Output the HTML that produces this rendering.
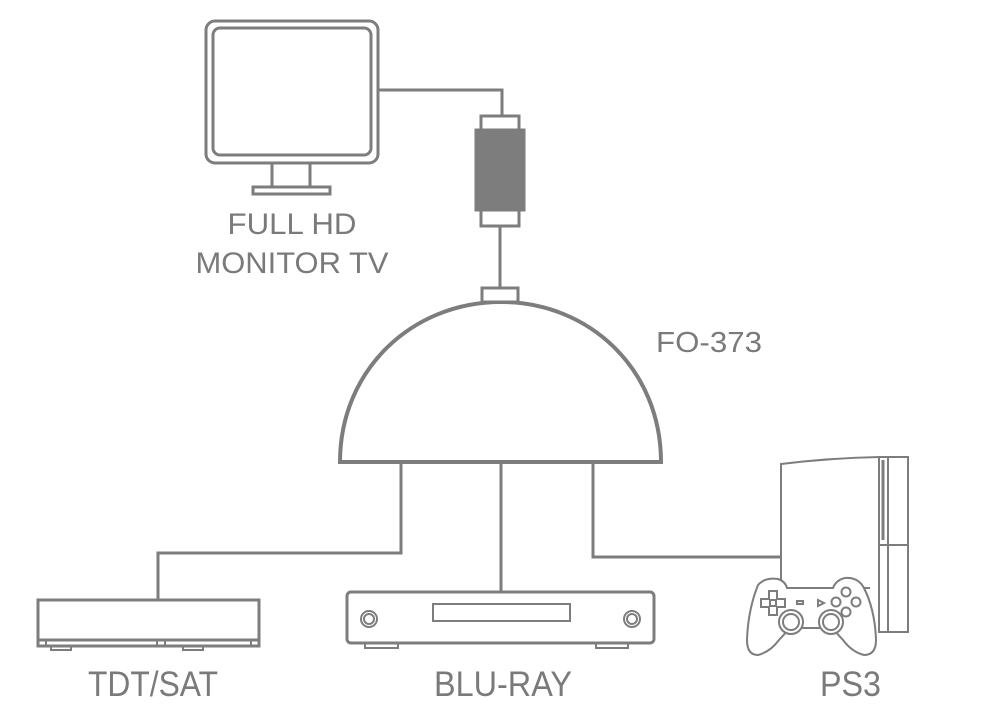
<!DOCTYPE html>
<html><head><style>
html,body{margin:0;padding:0;background:#fff;}
svg{display:block;}
text{font-family:"Liberation Sans",sans-serif;fill:#7a7a7a;}
</style></head><body>
<svg width="1000" height="727" viewBox="0 0 1000 727" xmlns="http://www.w3.org/2000/svg">
<g fill="none" stroke="#7d7d7d" stroke-width="3">
<!-- monitor -->
<rect x="206" y="21" width="172" height="142" rx="9"/>
<rect x="213" y="28" width="158" height="127" rx="7"/>
<path d="M272 163 V187 M310 163 V187"/>
<rect x="253" y="187" width="77" height="7"/>
<!-- cable -->
<path d="M378 90 H502 V116"/>
<rect x="481" y="116" width="38" height="14" fill="#fff"/>
<rect x="476" y="130" width="48" height="80" fill="#7d7d7d"/>
<rect x="481" y="210" width="38" height="16" fill="#fff"/>
<path d="M500 226 V288"/>
<!-- dome -->
<path d="M340 462 C340 370 412 302 501 302 C590 302 661 370 661 462 Z" stroke-width="4" fill="#fff"/>
<rect x="482" y="288" width="36" height="14" fill="#fff"/>
<!-- connection lines -->
<path d="M401 463 V553 H158 V600"/>
<path d="M501 463 V592"/>
<path d="M593 463 V557 H782"/>
<!-- TDT box -->
<rect x="38" y="600" width="221" height="40"/>
<rect x="38" y="640" width="221" height="6"/>
<path d="M46 640 V646 M157 640 V646 M165 640 V646 M251 640 V646" stroke-width="2"/>
<rect x="51" y="646" width="20" height="4" stroke-width="2"/>
<rect x="183" y="646" width="20" height="4" stroke-width="2"/>
<!-- Blu-ray -->
<rect x="347" y="592" width="307" height="51" rx="4"/>
<rect x="433" y="604" width="137" height="17" stroke-width="2"/>
<circle cx="369" cy="619" r="8" stroke-width="2"/><circle cx="369" cy="619" r="5" stroke-width="2"/>
<circle cx="632" cy="619" r="8" stroke-width="2"/><circle cx="632" cy="619" r="5" stroke-width="2"/>
<rect x="365" y="643" width="33" height="5" stroke-width="2"/>
<rect x="596" y="643" width="32" height="5" stroke-width="2"/>
<!-- PS3 -->
<g stroke-width="2">
<path d="M781 595 V464 Q830 458 879 457 V630"/>
<rect x="879" y="457" width="29" height="175"/>
<path d="M879 545 H908 M888 457 V632"/>
<path d="M883 460 V540" stroke-width="3"/>
<path d="M781 588 H870"/>
<path d="M758 585 Q765 577 778 579 Q785 581 787 588 H833 Q836 580 845 578 Q858 577 864 588 Q875 610 876 640 Q876 655 864 655 Q852 652 843 640 L832 628 H790 L779 640 Q770 652 758 655 Q747 655 747 640 Q748 610 758 585 Z" fill="#fff"/>
<path d="M761 599 h8 v-8 h8 v8 h8 v8 h-8 v8 h-8 v-8 h-8 Z"/>
<rect x="770" y="600" width="6" height="6"/>
<circle cx="846" cy="592" r="4.5"/><circle cx="846" cy="612" r="4.5"/><circle cx="836" cy="602" r="4.5"/><circle cx="856" cy="602" r="4.5"/>
<circle cx="791" cy="622" r="12" fill="#fff"/><circle cx="791" cy="622" r="8"/>
<circle cx="831" cy="622" r="12" fill="#fff"/><circle cx="831" cy="622" r="8"/>
<rect x="797" y="601" width="6" height="3"/>
<path d="M818 600 l6 3 -6 3 Z"/>
</g>
</g>
<text x="292" y="234" font-size="30" text-anchor="middle" textLength="129" lengthAdjust="spacingAndGlyphs">FULL HD</text>
<text x="292" y="273" font-size="30" text-anchor="middle" textLength="193" lengthAdjust="spacingAndGlyphs">MONITOR TV</text>
<text x="656" y="352" font-size="29" textLength="106" lengthAdjust="spacingAndGlyphs">FO-373</text>
<text x="88" y="696" font-size="35" textLength="130" lengthAdjust="spacingAndGlyphs">TDT/SAT</text>
<text x="434" y="696" font-size="35" textLength="138" lengthAdjust="spacingAndGlyphs">BLU-RAY</text>
<text x="820" y="696" font-size="35" textLength="61" lengthAdjust="spacingAndGlyphs">PS3</text>
</svg>
</body></html>
